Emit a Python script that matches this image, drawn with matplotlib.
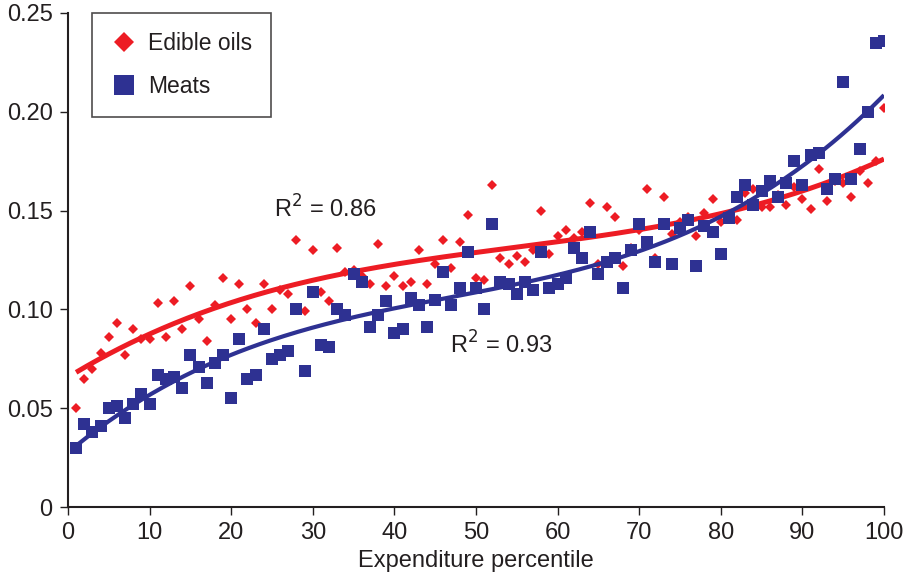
import numpy as np
import matplotlib
matplotlib.use("Agg")
import matplotlib.pyplot as plt
from matplotlib.lines import Line2D

percentile = list(range(1, 101))

edible_oils = [
    0.050, 0.065, 0.070, 0.078, 0.086, 0.093, 0.077, 0.090, 0.085, 0.085,
    0.103, 0.086, 0.104, 0.090, 0.112, 0.095, 0.084, 0.102, 0.116, 0.095,
    0.113, 0.100, 0.093, 0.113, 0.100, 0.110, 0.108, 0.135, 0.099, 0.130,
    0.109, 0.104, 0.131, 0.119, 0.120, 0.117, 0.113, 0.133, 0.112, 0.117,
    0.112, 0.114, 0.130, 0.113, 0.123, 0.135, 0.121, 0.134, 0.148, 0.116,
    0.115, 0.163, 0.126, 0.123, 0.127, 0.124, 0.130, 0.150, 0.128, 0.137,
    0.140, 0.136, 0.139, 0.154, 0.123, 0.152, 0.147, 0.122, 0.131, 0.140,
    0.161, 0.126, 0.157, 0.138, 0.144, 0.147, 0.137, 0.149, 0.156, 0.144,
    0.146, 0.145, 0.159, 0.161, 0.152, 0.152, 0.158, 0.153, 0.162, 0.156,
    0.151, 0.171, 0.155, 0.165, 0.164, 0.157, 0.170, 0.164, 0.175, 0.202,
]

meats = [
    0.030, 0.042, 0.038, 0.041, 0.050, 0.051, 0.045, 0.052, 0.057, 0.052,
    0.067, 0.065, 0.066, 0.060, 0.077, 0.071, 0.063, 0.073, 0.077, 0.055,
    0.085, 0.065, 0.067, 0.090, 0.075, 0.077, 0.079, 0.100, 0.069, 0.109,
    0.082, 0.081, 0.100, 0.097, 0.118, 0.114, 0.091, 0.097, 0.104, 0.088,
    0.090, 0.106, 0.102, 0.091, 0.105, 0.119, 0.102, 0.111, 0.129, 0.111,
    0.100, 0.143, 0.114, 0.113, 0.108, 0.114, 0.110, 0.129, 0.111, 0.113,
    0.116, 0.131, 0.126, 0.139, 0.118, 0.124, 0.126, 0.111, 0.130, 0.143,
    0.134, 0.124, 0.143, 0.123, 0.141, 0.145, 0.122, 0.142, 0.139, 0.128,
    0.146, 0.157, 0.163, 0.153, 0.160, 0.165, 0.157, 0.164, 0.175, 0.163,
    0.178, 0.179, 0.161, 0.166, 0.215, 0.166, 0.181, 0.200, 0.235, 0.236,
]

series_labels = ["Edible oils", "Meats"]
r2_labels = ["R$^2$ = 0.86", "R$^2$ = 0.93"]
x_ticks = [0, 10, 20, 30, 40, 50, 60, 70, 80, 90, 100]
y_ticks = [0, 0.05, 0.10, 0.15, 0.20, 0.25]
y_tick_labels = ["0", "0.05", "0.10", "0.15", "0.20", "0.25"]
x_label = "Expenditure percentile"

RED = "#ED1C24"
BLUE = "#2E3192"
INK = "#231F20"

plt.rcParams['font.family'] = ['Liberation Sans', 'DejaVu Sans']

fig = plt.figure(figsize=(9.06, 5.84), dpi=100)
ax = fig.add_axes([0.075, 0.1318, 0.9007, 0.846])

x = np.array(percentile, dtype=float)
yo = np.array(edible_oils)
ym = np.array(meats)

# cubic trend lines fitted to the data
xs = np.linspace(1, 100, 300)
po = np.polyfit(x, yo, 3)
pm = np.polyfit(x, ym, 3)

ax.plot(x, yo, linestyle='none', marker='D', markersize=5.3, color=RED,
        markeredgewidth=0, zorder=2)
ax.plot(xs, np.polyval(po, xs), color=RED, linewidth=3.6, zorder=3,
        solid_capstyle='butt')
ax.plot(x, ym, linestyle='none', marker='s', markersize=8.4, color=BLUE,
        markeredgewidth=0, zorder=4)
ax.plot(xs, np.polyval(pm, xs), color=BLUE, linewidth=3.0, zorder=5,
        solid_capstyle='butt')

ax.text(25.3, 0.151, r2_labels[0], fontsize=17, color=INK,
        ha='left', va='center')
ax.text(46.8, 0.082, r2_labels[1], fontsize=17, color=INK,
        ha='left', va='center')

ax.set_xlim(0, 100)
ax.set_ylim(0, 0.25)
ax.set_xticks(x_ticks)
ax.set_yticks(y_ticks)
ax.set_yticklabels(y_tick_labels)
ax.tick_params(axis='both', labelsize=17, direction='out', length=6,
               width=1, colors=INK, pad=5)
ax.set_xlabel(x_label, fontsize=17, color=INK, labelpad=4)
for s in ['top', 'right']:
    ax.spines[s].set_visible(False)
for s in ['left', 'bottom']:
    ax.spines[s].set_color(INK)
    ax.spines[s].set_linewidth(1.5)

handles = [
    Line2D([], [], linestyle='none', marker='D', markersize=10, color=RED,
           markeredgewidth=0),
    Line2D([], [], linestyle='none', marker='s', markersize=14, color=BLUE,
           markeredgewidth=0),
]
leg = ax.legend(handles, series_labels, loc='upper left',
                bbox_to_anchor=(0.029, 1.0), borderaxespad=0,
                frameon=True, fancybox=False, fontsize=16.5,
                handlelength=1.1, handletextpad=0.5, labelspacing=0.85,
                borderpad=0.85, edgecolor=INK)
leg.get_frame().set_linewidth(1.2)
for t in leg.get_texts():
    t.set_color(INK)

fig.savefig("out.png", dpi=100)
